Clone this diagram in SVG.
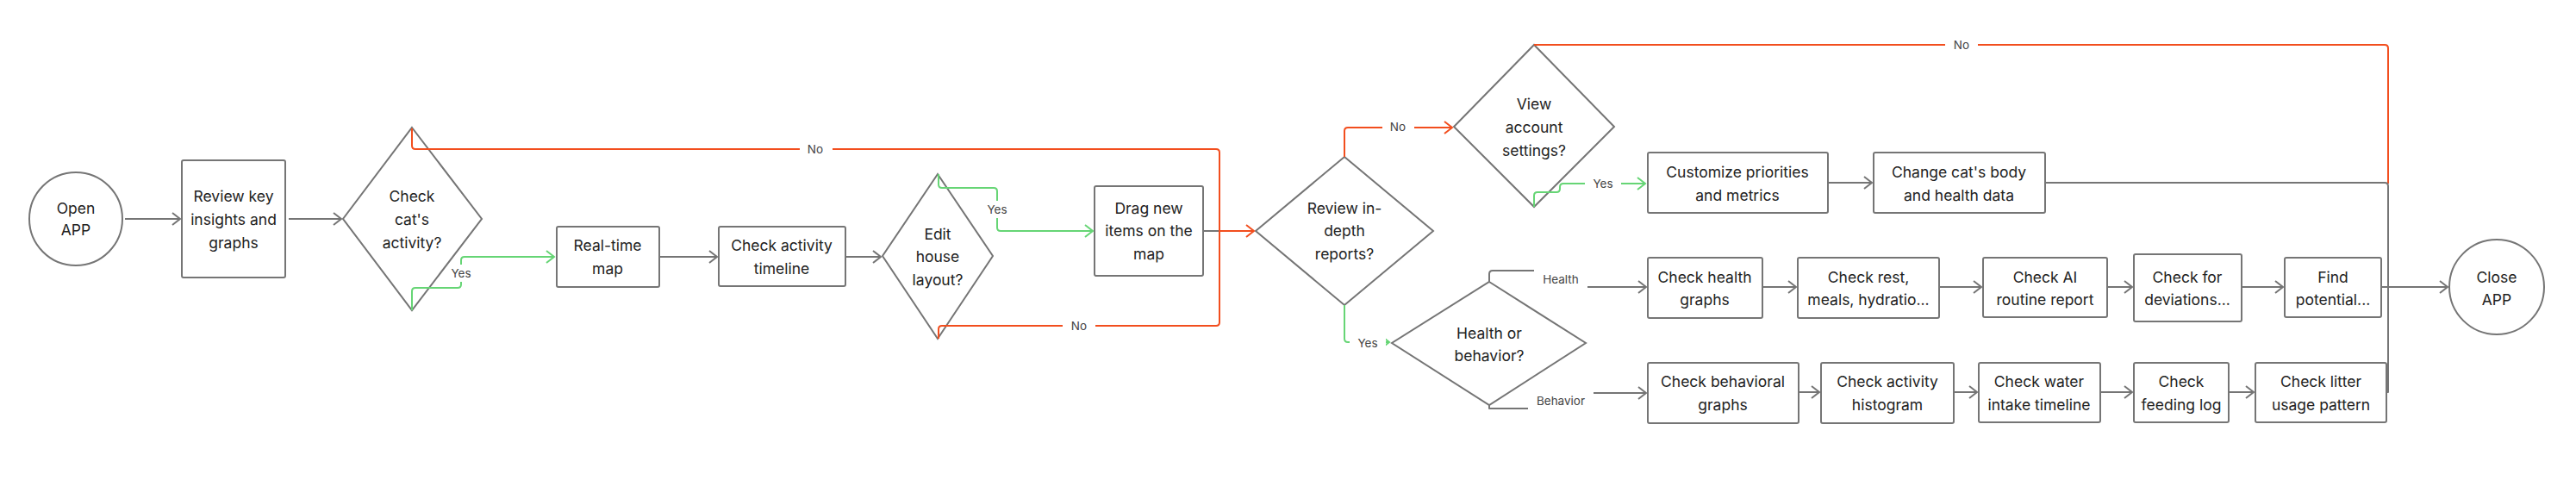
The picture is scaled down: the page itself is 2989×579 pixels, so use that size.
<svg xmlns="http://www.w3.org/2000/svg" width="2989" height="579" viewBox="0 0 2989 579">
<style>
.shape{fill:#fff;stroke:#757575;stroke-width:2}
.t{font-family:Inter,"Liberation Sans",sans-serif;font-size:17.5px;fill:#222;text-anchor:middle}
.lbl{font-family:Inter,"Liberation Sans",sans-serif;font-size:13.5px;fill:#444;text-anchor:middle}
.c{fill:none;stroke-width:2;stroke-linejoin:round}
.g{stroke:#757575}
.r{stroke:#F24E1E}
.gr{stroke:#66D575}
.bg{fill:#fff}
</style>
<defs>
<marker id="ag" markerUnits="userSpaceOnUse" markerWidth="14" markerHeight="18" refX="11" refY="8" orient="auto"><path d="M2,1 L11,8 L2,15" fill="none" stroke="#757575" stroke-width="2"/></marker>
<marker id="ar" markerUnits="userSpaceOnUse" markerWidth="14" markerHeight="18" refX="11" refY="8" orient="auto"><path d="M2,1 L11,8 L2,15" fill="none" stroke="#F24E1E" stroke-width="2"/></marker>
<marker id="agr" markerUnits="userSpaceOnUse" markerWidth="14" markerHeight="18" refX="11" refY="8" orient="auto"><path d="M2,1 L11,8 L2,15" fill="none" stroke="#66D575" stroke-width="2"/></marker>
</defs>
<rect width="2989" height="579" fill="#fff"/>

<g id="open-app"><circle class="shape" cx="88" cy="254" r="54"/><text class="t" x="88" y="248">Open</text><text class="t" x="88" y="273">APP</text></g>
<g id="review-key"><rect class="shape" x="211" y="186" width="120" height="136" rx="2"/><text class="t" x="271" y="234">Review key</text><text class="t" x="271" y="261">insights and</text><text class="t" x="271" y="288">graphs</text></g>
<g id="check-cats-activity"><polygon class="shape" points="478,148 559,254 478,360 398,254"/><text class="t" x="478" y="234">Check</text><text class="t" x="478" y="261">cat's</text><text class="t" x="478" y="288">activity?</text></g>
<g id="real-time-map"><rect class="shape" x="646" y="263" width="119" height="70" rx="2"/><text class="t" x="705" y="291">Real-time</text><text class="t" x="705" y="318">map</text></g>
<g id="check-activity-timeline"><rect class="shape" x="834" y="263" width="147" height="69" rx="2"/><text class="t" x="907" y="291">Check activity</text><text class="t" x="907" y="318">timeline</text></g>
<g id="edit-house-layout"><polygon class="shape" points="1088,202 1152,297 1088,393 1024,297"/><text class="t" x="1088" y="278">Edit</text><text class="t" x="1088" y="304">house</text><text class="t" x="1088" y="331">layout?</text></g>
<g id="drag-new-items"><rect class="shape" x="1270" y="216" width="126" height="104" rx="2"/><text class="t" x="1333" y="248">Drag new</text><text class="t" x="1333" y="274">items on the</text><text class="t" x="1333" y="301">map</text></g>
<g id="review-in-depth"><polygon class="shape" points="1560,182 1663,268 1560,354 1457,268"/><text class="t" x="1560" y="248">Review in-</text><text class="t" x="1560" y="274">depth</text><text class="t" x="1560" y="301">reports?</text></g>
<g id="view-account-settings"><polygon class="shape" points="1780,52 1873,147 1780,240 1687,147"/><text class="t" x="1780" y="127">View</text><text class="t" x="1780" y="154">account</text><text class="t" x="1780" y="181">settings?</text></g>
<g id="customize-priorities"><rect class="shape" x="1912" y="177" width="209" height="70" rx="2"/><text class="t" x="2016" y="206">Customize priorities</text><text class="t" x="2016" y="233">and metrics</text></g>
<g id="change-body-data"><rect class="shape" x="2174" y="177" width="199" height="70" rx="2"/><text class="t" x="2273" y="206">Change cat's body</text><text class="t" x="2273" y="233">and health data</text></g>
<g id="health-or-behavior"><polygon class="shape" points="1728,327 1840,398 1728,470 1615,398"/><text class="t" x="1728" y="393">Health or</text><text class="t" x="1728" y="419">behavior?</text></g>
<g id="check-health-graphs"><rect class="shape" x="1912" y="299" width="133" height="70" rx="2"/><text class="t" x="1978" y="328">Check health</text><text class="t" x="1978" y="354">graphs</text></g>
<g id="check-rest"><rect class="shape" x="2086" y="299" width="164" height="70" rx="2"/><text class="t" x="2168" y="328">Check rest,</text><text class="t" x="2168" y="354">meals, hydratio...</text></g>
<g id="check-ai-report"><rect class="shape" x="2301" y="299" width="144" height="69" rx="2"/><text class="t" x="2373" y="328">Check AI</text><text class="t" x="2373" y="354">routine report</text></g>
<g id="check-deviations"><rect class="shape" x="2476" y="295" width="125" height="78" rx="2"/><text class="t" x="2538" y="328">Check for</text><text class="t" x="2538" y="354">deviations...</text></g>
<g id="find-potential"><rect class="shape" x="2651" y="299" width="112" height="69" rx="2"/><text class="t" x="2707" y="328">Find</text><text class="t" x="2707" y="354">potential...</text></g>
<g id="check-behavioral-graphs"><rect class="shape" x="1912" y="421" width="175" height="70" rx="2"/><text class="t" x="1999" y="449">Check behavioral</text><text class="t" x="1999" y="476">graphs</text></g>
<g id="check-activity-histogram"><rect class="shape" x="2113" y="421" width="154" height="70" rx="2"/><text class="t" x="2190" y="449">Check activity</text><text class="t" x="2190" y="476">histogram</text></g>
<g id="check-water-intake"><rect class="shape" x="2296" y="421" width="141" height="69" rx="2"/><text class="t" x="2366" y="449">Check water</text><text class="t" x="2366" y="476">intake timeline</text></g>
<g id="check-feeding-log"><rect class="shape" x="2476" y="421" width="110" height="69" rx="2"/><text class="t" x="2531" y="449">Check</text><text class="t" x="2531" y="476">feeding log</text></g>
<g id="check-litter"><rect class="shape" x="2617" y="421" width="152" height="69" rx="2"/><text class="t" x="2693" y="449">Check litter</text><text class="t" x="2693" y="476">usage pattern</text></g>
<g id="close-app"><circle class="shape" cx="2897" cy="333" r="55"/><text class="t" x="2897" y="328">Close</text><text class="t" x="2897" y="354">APP</text></g>

<g id="connectors">
<path class="c g" d="M145,254 H209" marker-end="url(#ag)"/>
<path class="c g" d="M335,254 H396" marker-end="url(#ag)"/>
<path class="c gr" d="M478,360 V338 q0,-4 4,-4 H531 q4,0 4,-4 V302 q0,-4 4,-4 H643" marker-end="url(#agr)"/>
<path class="c g" d="M765,298 H832" marker-end="url(#ag)"/>
<path class="c g" d="M981,298 H1022" marker-end="url(#ag)"/>
<path class="c gr" d="M1089,202 V214 q0,4 4,4 H1153 q4,0 4,4 V264 q0,4 4,4 H1268" marker-end="url(#agr)"/>
<path class="c g" d="M1396,268 H1416"/>
<path class="c r" d="M478,149 V169 q0,4 4,4 H1411 q4,0 4,4 V268 H1455" marker-end="url(#ar)"/>
<path class="c r" d="M1089,393 V382 q0,-4 4,-4 H1411 q4,0 4,-4 V268"/>
<path class="c r" d="M1560,182 V152 q0,-4 4,-4 H1685" marker-end="url(#ar)"/>
<path class="c gr" d="M1560,354 V393 q0,4 4,4 H1612" marker-end="url(#agr)"/>
<path class="c gr" d="M1780,240 V227 q0,-4 4,-4 H1806 q4,0 4,-4 V217 q0,-4 4,-4 H1909" marker-end="url(#agr)"/>
<path class="c r" d="M1780,52 H2767 q4,0 4,4 V213"/>
<path class="c g" d="M2373,212 H2767 q4,0 4,4 V333"/>
<path class="c g" d="M2769,455 H2771 V333"/>
<path class="c g" d="M2121,212 H2172" marker-end="url(#ag)"/>
<path class="c g" d="M1728,327 V318 q0,-4 4,-4 H1806 q4,0 4,4 V329 q0,4 4,4 H1910" marker-end="url(#ag)"/>
<path class="c g" d="M1728,470 V474 H1806 q4,0 4,-4 V460 q0,-4 4,-4 H1910" marker-end="url(#ag)"/>
<path class="c g" d="M2045,333 H2084" marker-end="url(#ag)"/>
<path class="c g" d="M2250,333 H2299" marker-end="url(#ag)"/>
<path class="c g" d="M2445,333 H2474" marker-end="url(#ag)"/>
<path class="c g" d="M2601,333 H2649" marker-end="url(#ag)"/>
<path class="c g" d="M2763,333 H2840" marker-end="url(#ag)"/>
<path class="c g" d="M2087,455 H2111" marker-end="url(#ag)"/>
<path class="c g" d="M2267,455 H2294" marker-end="url(#ag)"/>
<path class="c g" d="M2437,455 H2474" marker-end="url(#ag)"/>
<path class="c g" d="M2586,455 H2615" marker-end="url(#ag)"/>
<rect class="bg" x="523" y="307" width="24" height="20"/>
<text class="lbl" x="535" y="322">Yes</text>
<rect class="bg" x="928" y="164" width="38" height="18"/>
<text class="lbl" x="946" y="178">No</text>
<rect class="bg" x="1233" y="369" width="38" height="18"/>
<text class="lbl" x="1252" y="383">No</text>
<rect class="bg" x="1145" y="233" width="24" height="20"/>
<text class="lbl" x="1157" y="248">Yes</text>
<rect class="bg" x="1604" y="138" width="37" height="18"/>
<text class="lbl" x="1622" y="152">No</text>
<rect class="bg" x="1566" y="388" width="42" height="20"/>
<text class="lbl" x="1587" y="403">Yes</text>
<rect class="bg" x="1839" y="204" width="42" height="18"/>
<text class="lbl" x="1860" y="218">Yes</text>
<rect class="bg" x="2257" y="43" width="38" height="18"/>
<text class="lbl" x="2276" y="57">No</text>
<rect class="bg" x="1780" y="309" width="62" height="30"/>
<text class="lbl" x="1811" y="329">Health</text>
<rect class="bg" x="1773" y="450" width="76" height="30"/>
<text class="lbl" x="1811" y="470">Behavior</text>
</g>
</svg>
